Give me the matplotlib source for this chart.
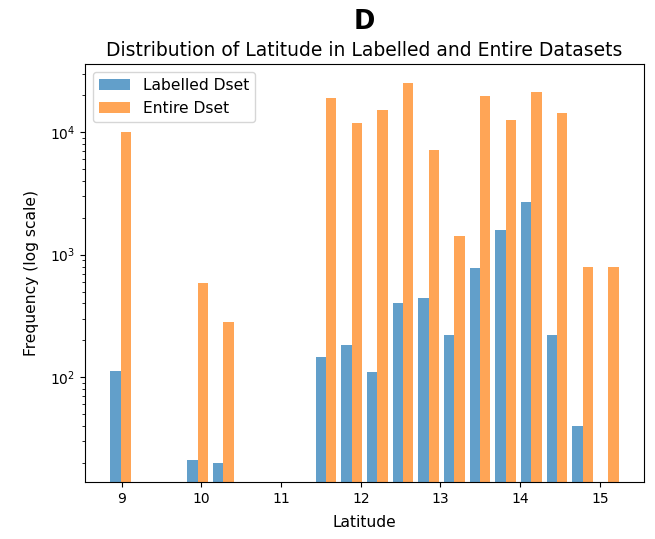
import numpy as np
import matplotlib
matplotlib.use("Agg")
import matplotlib.pyplot as plt

# bin edges for latitude (20 bins)
bin_start = 8.826
bin_end = 15.267
n_bins = 20
edges = np.linspace(bin_start, bin_end, n_bins + 1)
centers = (edges[:-1] + edges[1:]) / 2

labelled_counts = [112, 0, 0, 21, 20, 0, 0, 0, 145, 182, 110, 402, 441, 220, 783, 1600, 2710, 220, 40, 0]
entire_counts = [10000, 0, 0, 590, 281, 0, 0, 0, 19000, 11850, 15100, 25100, 7130, 1430, 19700, 12540, 21200, 14300, 798, 800]

series_labels = ["Labelled Dset", "Entire Dset"]

fig = plt.figure(figsize=(6.55, 5.39), dpi=100)
ax = fig.add_axes([85 / 655, 1 - 482 / 539, (644 - 85) / 655, (482 - 64) / 539])

ax.hist([centers, centers], bins=edges, weights=[labelled_counts, entire_counts],
        label=series_labels, alpha=0.7, log=True)

ax.set_xlabel("Latitude", fontsize=11.2, labelpad=6.5)
ax.set_ylabel("Frequency (log scale)", fontsize=11.2, labelpad=8)
ax.set_title("Distribution of Latitude in Labelled and Entire Datasets", fontsize=13.5)
fig.text((85 + 644) / 2 / 655, 1 - 22 / 539, "D", ha="center", va="center",
         fontsize=18.5, fontweight="bold")
ax.legend(loc="upper left", fontsize=11.2)

fig.savefig("out.png", dpi=100)
